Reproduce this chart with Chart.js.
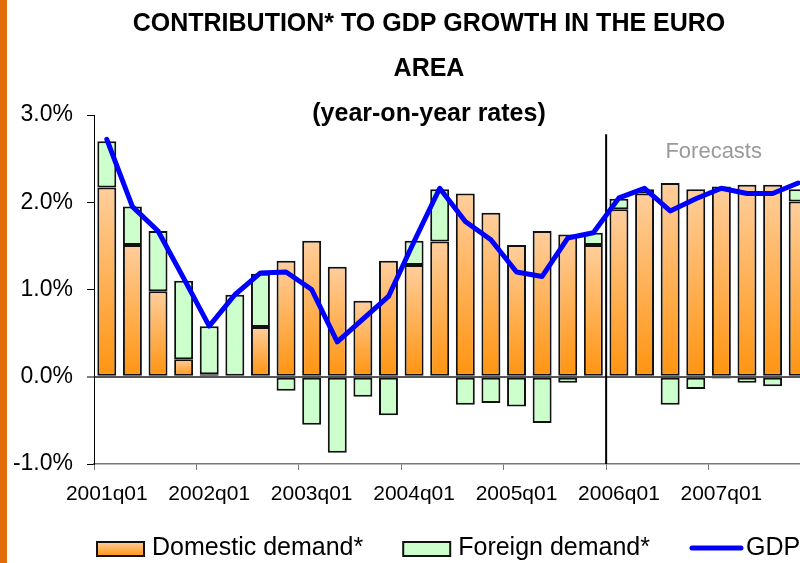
<!DOCTYPE html>
<html>
<head>
<meta charset="utf-8">
<script src="https://cdn.jsdelivr.net/npm/chart.js@4/dist/chart.umd.min.js"></script>
<style>
  html, body { margin: 0; padding: 0; background: #fff; overflow: hidden; width: 800px; height: 563px; }
  #wrap { position: relative; width: 800px; height: 563px; overflow: hidden; }
  #strip { position: absolute; left: 0; top: 0; width: 7px; height: 563px; background: #E36C0A; z-index: 2; }
  canvas { position: absolute; left: 0; top: 0; }
</style>
</head>
<body>
<div id="wrap">
  <canvas id="c" width="858" height="563" style="width:858px;height:563px"></canvas>
  <div id="strip"></div>
</div>
<script>
const categories = [
  '2001q01','2001q02','2001q03','2001q04',
  '2002q01','2002q02','2002q03','2002q04',
  '2003q01','2003q02','2003q03','2003q04',
  '2004q01','2004q02','2004q03','2004q04',
  '2005q01','2005q02','2005q03','2005q04',
  '2006q01','2006q02','2006q03','2006q04',
  '2007q01','2007q02','2007q03','2007q04'
];
const domesticDemand = [
  2.17, 1.51, 0.98, 0.20,
  0.03, 0.00, 0.57, 1.33,
  1.56, 1.26, 0.87, 1.33,
  1.28, 1.55, 2.10, 1.88,
  1.51, 1.67, 1.63, 1.51,
  1.92, 2.10, 2.22, 2.15,
  2.18, 2.20, 2.20, 2.01
];
const foreignDemand = [
  0.53, 0.44, 0.69, 0.90,
  0.55, 0.94, 0.61, -0.16,
  -0.55, -0.87, -0.23, -0.44,
  0.28, 0.60, -0.32, -0.30,
  -0.34, -0.53, -0.07, 0.14,
  0.12, 0.05, -0.32, -0.14,
  -0.02, -0.07, -0.11, 0.14
];
const gdpGrowth = [
  2.72, 1.95, 1.67, 1.13,
  0.58, 0.94, 1.19, 1.20,
  1.00, 0.40, 0.66, 0.92,
  1.55, 2.16, 1.78, 1.57,
  1.20, 1.15, 1.59, 1.65,
  2.05, 2.16, 1.90, 2.04,
  2.16, 2.10, 2.10, 2.22
];
const titleLines = ['CONTRIBUTION* TO GDP GROWTH IN THE EURO', 'AREA', '(year-on-year rates)'];
const seriesNames = ['Domestic demand*', 'Foreign demand*', 'GDP'];
const forecastStartIndex = 20;
const forecastLabel = 'Forecasts';
const forecastLineTopValue = 2.78;
const forecastLabelPos = { index: 23.7, value: 2.58 };

const FONT = "'Liberation Sans', Arial, sans-serif";
const PEACH = '#FFCE9C';
const ORANGE = '#FF9410';
const GREEN = '#CCFFCC';
const BLUE = '#0000FF';

function domesticFill(context) {
  const chart = context.chart;
  const { ctx, chartArea, scales } = chart;
  if (!chartArea || context.dataIndex === undefined || !scales || !scales.y) return '#FFB566';
  const v = context.raw;
  const y0 = scales.y.getPixelForValue(0);
  const y1 = scales.y.getPixelForValue(v);
  if (!isFinite(y0) || !isFinite(y1) || Math.abs(y0 - y1) < 0.5) return '#FF9A1A';
  const g = ctx.createLinearGradient(0, y1, 0, y0);
  g.addColorStop(0, PEACH);
  g.addColorStop(1, ORANGE);
  return g;
}

const forecastPlugin = {
  id: 'forecast',
  beforeDatasetsDraw(chart) {
    const { ctx, chartArea, scales } = chart;
    const xs = scales.x, ys = scales.y;
    const x = (xs.getPixelForValue(forecastStartIndex - 1) + xs.getPixelForValue(forecastStartIndex)) / 2;
    ctx.save();
    ctx.strokeStyle = '#000';
    ctx.lineWidth = 2;
    ctx.beginPath();
    ctx.moveTo(x, ys.getPixelForValue(forecastLineTopValue));
    ctx.lineTo(x, chartArea.bottom);
    ctx.stroke();
    ctx.fillStyle = '#9a9a9a';
    ctx.font = "22px " + FONT;
    ctx.textAlign = 'center';
    ctx.textBaseline = 'middle';
    ctx.fillText(forecastLabel, xs.getPixelForValue(forecastLabelPos.index), ys.getPixelForValue(forecastLabelPos.value));
    ctx.restore();
  }
};

// Legend drawn below the x axis, in the reserved bottom padding
const legendPlugin = {
  id: 'bottomLegend',
  afterDraw(chart) {
    const { ctx } = chart;
    const cy = 548;
    const boxW = 47, boxH = 14, lineW = 53, textGap = 8, lineTextGap = 3, itemGap = 40;
    let x = 97;
    ctx.save();
    ctx.font = "25px " + FONT;
    ctx.textBaseline = 'middle';
    ctx.textAlign = 'left';
    chart.data.datasets.forEach((ds, i) => {
      if (ds.type === 'line') {
        ctx.strokeStyle = ds.borderColor;
        ctx.lineWidth = 5;
        ctx.lineCap = 'round';
        ctx.beginPath();
        ctx.moveTo(x + 2, cy);
        ctx.lineTo(x + lineW - 2, cy);
        ctx.stroke();
        x += lineW + lineTextGap;
      } else {
        const top = cy - boxH / 2 + 1;
        if (i === 0) {
          const g = ctx.createLinearGradient(0, top, 0, top + boxH);
          g.addColorStop(0, PEACH);
          g.addColorStop(1, ORANGE);
          ctx.fillStyle = g;
        } else {
          ctx.fillStyle = ds.backgroundColor;
        }
        ctx.fillRect(x, top, boxW, boxH);
        ctx.strokeStyle = '#111';
        ctx.lineWidth = 2;
        ctx.strokeRect(x, top, boxW, boxH);
        x += boxW + textGap;
      }
      ctx.fillStyle = '#000';
      ctx.fillText(ds.label, x, cy);
      x += ctx.measureText(ds.label).width + itemGap;
    });
    ctx.restore();
  }
};

new Chart(document.getElementById('c'), {
  data: {
    labels: categories,
    datasets: [
      {
        type: 'bar', label: seriesNames[0], data: domesticDemand, stack: 's', order: 1,
        backgroundColor: domesticFill, borderColor: '#111', borderWidth: 2, borderSkipped: false,
        barPercentage: 0.74, categoryPercentage: 1.0
      },
      {
        type: 'bar', label: seriesNames[1], data: foreignDemand, stack: 's', order: 1,
        backgroundColor: GREEN, borderColor: '#111', borderWidth: 2, borderSkipped: false,
        barPercentage: 0.74, categoryPercentage: 1.0
      },
      {
        type: 'line', label: seriesNames[2], data: gdpGrowth, order: 0,
        borderColor: BLUE, backgroundColor: BLUE, borderWidth: 5,
        pointRadius: 0, tension: 0, fill: false, borderJoinStyle: 'round', borderCapStyle: 'round'
      }
    ]
  },
  options: {
    responsive: false,
    animation: false,
    devicePixelRatio: 1,
    layout: { padding: { left: 0, right: 0, top: 0, bottom: 54 } },
    plugins: {
      title: {
        display: true, text: titleLines, color: '#000',
        font: { family: FONT, weight: 'bold', size: 25, lineHeight: '45px' },
        padding: { top: 2, bottom: -22 }
      },
      legend: { display: false },
      tooltip: { enabled: false }
    },
    scales: {
      x: {
        stacked: true,
        offset: true,
        grid: {
          offset: true, drawOnChartArea: false, drawTicks: true, tickLength: 6,
          color: (c) => (c.index % 4 === 0 ? '#777' : 'rgba(0,0,0,0)'),
          tickColor: (c) => (c.index % 4 === 0 ? '#777' : 'rgba(0,0,0,0)')
        },
        border: { display: true, color: '#777', width: 1.5 },
        ticks: {
          autoSkip: false, maxRotation: 0, minRotation: 0, padding: 12, color: '#000',
          font: { family: FONT, size: 21 },
          callback: (v, i) => (i % 4 === 0 ? categories[i] : '')
        },
        afterFit: (s) => { s.height = 45; }
      },
      y: {
        stacked: true, min: -1, max: 3,
        ticks: {
          stepSize: 1, color: '#000', padding: 14,
          font: { family: FONT, size: 23 },
          callback: (v) => Number(v).toFixed(1) + '%'
        },
        grid: {
          drawOnChartArea: true, drawTicks: true, tickLength: 7,
          color: (c) => (c.tick && c.tick.value === 0 ? '#555' : 'rgba(0,0,0,0)'),
          lineWidth: (c) => (c.tick && c.tick.value === 0 ? 2 : 1),
          tickColor: '#000', tickWidth: 1
        },
        border: { display: true, color: '#000', width: 1 },
        afterFit: (s) => { s.width = 94; }
      },
      yRight: {
        type: 'linear', axis: 'y', position: 'right', display: true,
        grid: { display: false }, border: { display: false }, ticks: { display: false },
        afterFit: (s) => { s.width = 47; }
      }
    }
  },
  plugins: [forecastPlugin, legendPlugin]
});
</script>
</body>
</html>
